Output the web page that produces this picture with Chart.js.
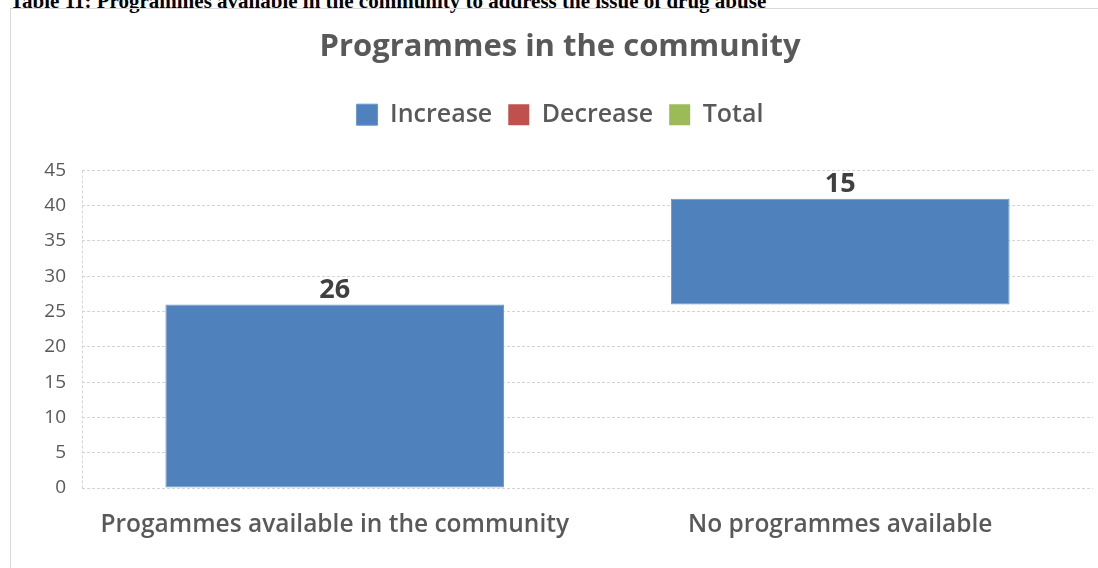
<!DOCTYPE html>
<html>
<head>
<meta charset="utf-8">
<script src="https://cdn.jsdelivr.net/npm/chart.js@4.4.1/dist/chart.umd.min.js"></script>
<style>
    body { margin: 0; background: #fff; width: 1098px; height: 568px; overflow: hidden; position: relative; }
    #caption { position: absolute; left: 10px; top: -11px; font: bold 21px "Liberation Serif", serif; color: #000; white-space: nowrap; }
    #frame { position: absolute; left: 10px; top: 8px; width: 1100px; height: 570px; border: 1px solid #d9d9d9; }
    #chart_container { position: absolute; left: 11px; top: 9px; width: 1098px; height: 559px; }
</style>
</head>
<body>
<div id="caption">Table 11: Programmes available in the community to address the issue of drug abuse</div>
<div id="frame"></div>
<div id="chart_container"><canvas id="myChart" width="1098" height="559"></canvas></div>
<script>
const categories = ["Progammes available in the community", "No programmes available"];
const increaseValues = [26, 15];
const decreaseValues = [];
const totalValues = [];
const yTicks = { min: 0, max: 45, step: 5 };

const textColor = "#595959";
const gridColor = "#d4d4d4";
const fontName = "'Open Sans', sans-serif";

// waterfall: each increase floats on top of the running total
function floatingBars(deltas) {
    const bars = [];
    let running = 0;
    for (const d of deltas) {
        bars.push([running, running + d]);
        running += d;
    }
    return bars;
}

const valueLabels = {
    id: "valueLabels",
    afterDatasetsDraw(chart) {
        const ctx = chart.ctx;
        const meta = chart.getDatasetMeta(0);
        ctx.save();
        ctx.font = "bold 27px " + fontName;
        ctx.fillStyle = "#404040";
        ctx.textAlign = "center";
        ctx.textBaseline = "bottom";
        meta.data.forEach((bar, i) => {
            ctx.fillText(String(increaseValues[i]), bar.x, bar.y - 1);
        });
        ctx.restore();
    }
};

const ctx = document.getElementById("myChart").getContext("2d");
const chart = new Chart(ctx, {
    type: "bar",
    data: {
        labels: categories,
        datasets: [
            {
                label: "Increase",
                data: floatingBars(increaseValues),
                backgroundColor: "#4f81bd",
                borderColor: "#6a96cc",
                borderWidth: 1,
                borderSkipped: false,
                grouped: false,
                categoryPercentage: 1,
                barPercentage: 0.67
            },
            {
                label: "Decrease",
                data: decreaseValues,
                backgroundColor: "#c0504d",
                grouped: false
            },
            {
                label: "Total",
                data: totalValues,
                backgroundColor: "#9bbb59",
                grouped: false
            }
        ]
    },
    options: {
        responsive: false,
        animation: false,
        devicePixelRatio: 1,
        layout: { padding: { top: 0, right: 16, left: 16, bottom: 0 } },
        plugins: {
            title: {
                display: true,
                text: "Programmes in the community",
                color: textColor,
                font: { family: fontName, size: 31, weight: "bold" },
                padding: { top: 20, bottom: 20 }
            },
            subtitle: {
                display: true,
                text: "",
                weight: 500,
                font: { size: 1 },
                padding: { top: 0, bottom: 32 }
            },
            legend: {
                onClick: null,
                labels: {
                    color: textColor,
                    font: { family: fontName, size: 25, weight: "600" },
                    boxWidth: 21,
                    boxHeight: 21,
                    padding: 16
                }
            },
            tooltip: { enabled: false }
        },
        scales: {
            x: {
                grid: {
                    offset: true,
                    drawTicks: false,
                    color: (c) => c.index === 0 ? gridColor : "rgba(0,0,0,0)"
                },
                border: { display: false, dash: [3, 2] },
                ticks: {
                    color: textColor,
                    font: { family: fontName, size: 24.5, weight: "600" },
                    padding: 22,
                    maxRotation: 0
                },
                afterFit: (scale) => { scale.height = 80; }
            },
            y: {
                min: yTicks.min,
                max: yTicks.max,
                grid: { color: gridColor, drawTicks: false },
                border: { display: false, dash: [3, 2] },
                ticks: {
                    stepSize: yTicks.step,
                    color: textColor,
                    font: { family: fontName, size: 19 },
                    padding: 16
                },
                afterFit: (scale) => { scale.width = 55; }
            }
        }
    },
    plugins: [valueLabels]
});
</script>
</body>
</html>
